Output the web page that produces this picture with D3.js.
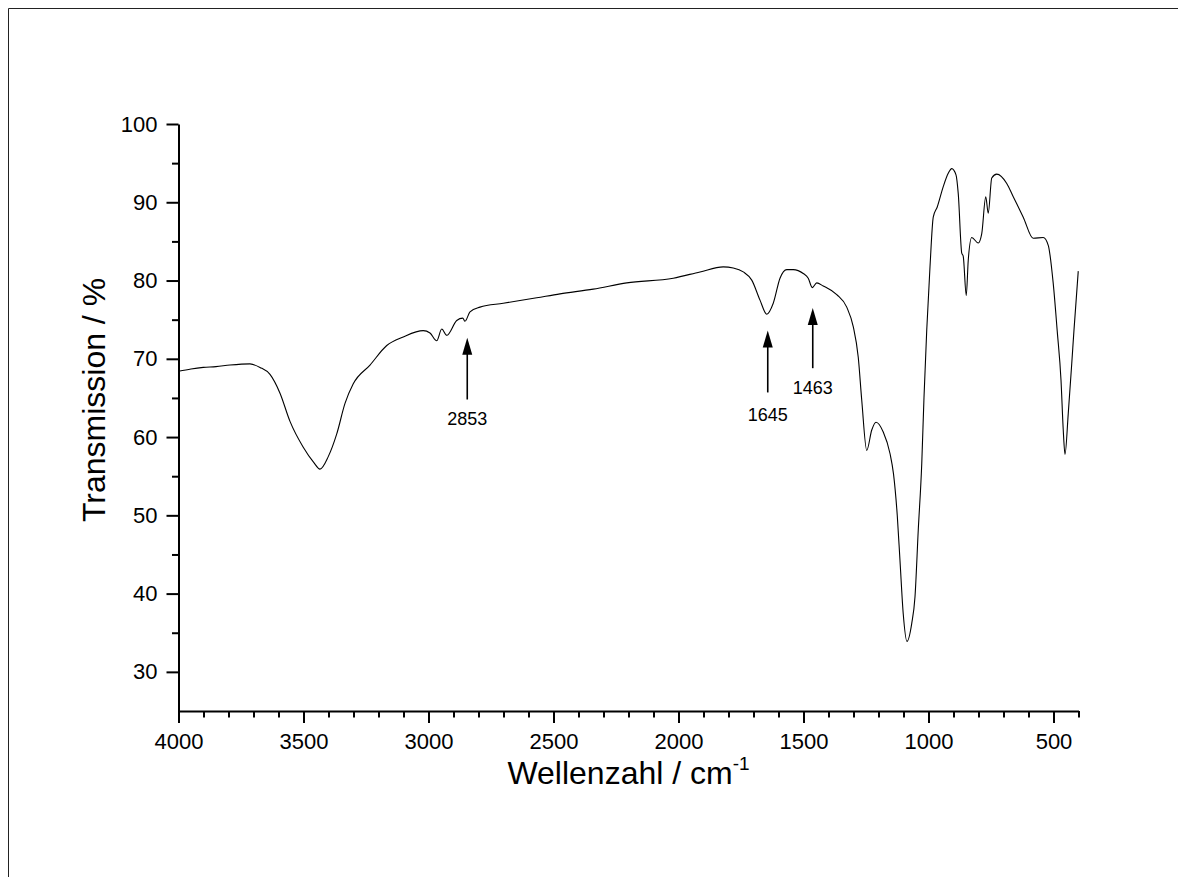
<!DOCTYPE html>
<html><head><meta charset="utf-8">
<script src="https://cdn.jsdelivr.net/npm/d3@7"></script>
<style>
body{margin:0;background:#fff}
svg{display:block}
text{font-family:"Liberation Sans",Arial,Helvetica,sans-serif;fill:#000}
</style>
</head><body>
<svg id="chart" width="1178" height="877"></svg>
<script>
// ---- data ----
const wavenumber = [4000,3950,3901,3850,3794,3714,3674,3634,3594,3554,3501,3460,3434,3401,3367,3334,3301,3234,3167,3101,3021,2994,2967,2947,2927,2887,2863,2854,2834,2794,2701,2567,2474,2341,2207,2021,1914,1821,1781,1741,1707,1674,1647,1621,1594,1567,1541,1501,1481,1465,1447,1421,1367,1327,1301,1281,1267,1247,1227,1210,1181,1154,1140,1125,1114,1101,1086,1067,1054,1041,1027,1018,1007,994,981,965,941,921,907,890,881,867,861,849,841,827,801,787,771,761,747,727,687,661,621,581,541,521,501,485,470,461,454,441,427,418,401];
const transmission = [68.4,68.7,68.9,69.0,69.2,69.35,68.9,68.0,65.6,62.0,58.7,56.8,55.9,57.5,60.4,64.3,66.8,69.2,71.7,72.8,73.6,73.3,72.3,73.8,73.0,74.9,75.2,74.8,76.0,76.6,77.1,77.8,78.3,78.9,79.7,80.3,81.1,81.75,81.6,81.1,80.05,77.5,75.7,77.1,80.3,81.4,81.4,80.9,80.3,79.1,79.7,79.3,78.2,76.6,74.1,70.2,64.7,58.3,60.9,61.9,60.65,57.9,55.3,50.0,44.2,37.4,33.9,36.2,39.6,48.1,56.6,65.1,73.7,81.75,88.1,89.4,92.0,93.7,94.3,93.5,91.1,83.5,83.1,78.1,82.6,85.5,84.8,86.0,90.7,88.6,93.1,93.6,92.4,90.7,88.1,85.4,85.5,84.5,79.6,73.5,67.3,60.9,57.8,63.0,69.4,73.7,81.2];

const xMajorTicks = [4000,3500,3000,2500,2000,1500,1000,500];
const xMinorTicks = d3.range(4000, 399, -100);
const yMajorTicks = [30,40,50,60,70,80,90,100];
const yMinorTicks = [35,45,55,65,75,85,95];

// annotations: band label, arrow x (wavenumber), arrow tip / tail and label baseline (in % T)
const annLabels = ["2853","1645","1463"];
const annWn     = [2845, 1643, 1463];
const annTip    = [72.7, 73.6, 76.5];
const annTail   = [64.8, 65.7, 68.8];
const annText   = [61.5, 62.0, 65.45];

const xTitle = "Wellenzahl / cm";
const xTitleSup = "-1";
const yTitle = "Transmission / %";

// ---- drawing ----
const svg = d3.select("#chart");

// outer frame (only top and left edges visible)
svg.append("path").attr("d","M8.5,877 V8.5 H1178")
  .attr("fill","none").attr("stroke","#222").attr("stroke-width",1);

const x = d3.scaleLinear().domain([4000,400]).range([178.5,1078.5]);
const y = d3.scaleLinear().domain([25,100]).range([711,124]);

const data = wavenumber.map((w,i)=>({w, t: transmission[i]}));

const line = d3.line().x(d=>x(d.w)).y(d=>y(d.t)).curve(d3.curveMonotoneX);
svg.append("path").datum(data).attr("d",line)
  .attr("fill","none").attr("stroke","#000").attr("stroke-width",1.1);

// x axis
const gx = svg.append("g").attr("transform","translate(0,711)");
gx.call(d3.axisBottom(x).tickValues(xMinorTicks).tickSize(6.5).tickSizeOuter(0).tickFormat(""));
gx.select(".domain").remove();
const gx2 = svg.append("g").attr("transform","translate(0,711)");
gx2.call(d3.axisBottom(x).tickValues(xMajorTicks).tickSize(12).tickSizeOuter(0).tickPadding(10).tickFormat(d3.format("d")));

// y axis
const gy = svg.append("g").attr("transform","translate(178.5,0)");
gy.call(d3.axisLeft(y).tickValues(yMinorTicks).tickSize(6.5).tickSizeOuter(0).tickFormat(""));
gy.select(".domain").remove();
const gy2 = svg.append("g").attr("transform","translate(178.5,0)");
gy2.call(d3.axisLeft(y).tickValues(yMajorTicks).tickSize(12).tickSizeOuter(0).tickPadding(9).tickFormat(d3.format("d")));

svg.selectAll(".tick line").attr("stroke","#000").attr("stroke-width",2);
svg.selectAll(".domain").attr("stroke","#000").attr("stroke-width",2);
svg.selectAll(".tick text").attr("font-size",22).attr("font-family","Liberation Sans, Arial, sans-serif").attr("fill","#000");

// annotations
annLabels.forEach((lab,i)=>{
  const ax = x(annWn[i]);
  const tipY = y(annTip[i]);
  const tailY = y(annTail[i]);
  svg.append("line").attr("x1",ax).attr("x2",ax).attr("y1",tipY+14).attr("y2",tailY)
    .attr("stroke","#000").attr("stroke-width",1.6);
  svg.append("path").attr("d",`M${ax},${tipY} L${ax-5},${tipY+17} L${ax+5},${tipY+17} Z`).attr("fill","#000");
  svg.append("text").attr("x",ax).attr("y",y(annText[i])).attr("text-anchor","middle")
    .attr("font-size",18).text(lab);
});

// axis titles
svg.append("text").attr("transform","translate(105,400) rotate(-90)")
  .attr("text-anchor","middle").attr("font-size",32).text(yTitle);

const xt = svg.append("text").attr("x",628.5).attr("y",784).attr("text-anchor","middle").attr("font-size",32);
xt.append("tspan").text(xTitle);
xt.append("tspan").attr("font-size",19).attr("dy",-14).text(xTitleSup);
</script>
</body></html>
